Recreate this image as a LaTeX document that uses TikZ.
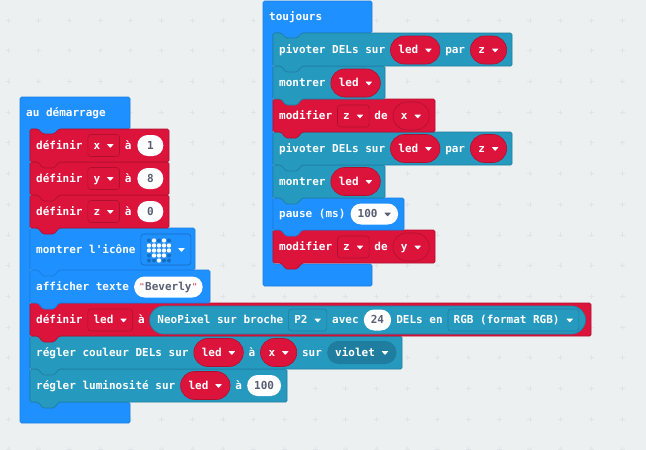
\documentclass[tikz,border=0pt]{standalone}
\usepackage{fontspec}
\setmonofont{DejaVu Sans Mono}
\usepackage{tikz}
\usetikzlibrary{positioning}

\definecolor{bgcol}{HTML}{ECF0F1}
\definecolor{gridcol}{HTML}{E0E4E6}
\definecolor{bluecol}{HTML}{1E90FF}
\definecolor{blueedge}{HTML}{1A7FE0}
\definecolor{redcol}{HTML}{DC143C}
\definecolor{rededge}{HTML}{B01030}
\definecolor{tealcol}{HTML}{2699BF}
\definecolor{tealedge}{HTML}{1F7EA0}
\definecolor{inkcol}{HTML}{575E75}
\definecolor{quotecol}{HTML}{C05060}

\newcommand{\ddown}[1][white]{\tikz[baseline=-0.5pt,x=1pt,y=1pt]\fill[#1,rounded corners=0.6pt] (0,4.5) -- (7,4.5) -- (3.5,0.5) -- cycle;}
\newcommand{\tick}{\makebox[6.6pt]{\textcolor{quotecol}{\fontsize{8}{8}\selectfont\raisebox{1pt}{"}}}}
% stacked block: style, x0, y0, x1, y1
\newcommand{\stackblock}[5]{\draw[#1,rounded corners=1.5pt,line width=0.7pt] (#2,#3) -- (#2+8,#3) -- (#2+13,#3+5) -- (#2+24,#3+5) -- (#2+29,#3) -- (#4,#3) -- (#4,#5) -- (#2+29,#5) -- (#2+24,#5+6) -- (#2+13,#5+6) -- (#2+8,#5) -- (#2,#5) -- cycle;}
% container: x0, y0, x1, y1 header bottom, y2 bar top, y3 bottom
\newcommand{\hatblock}[6]{\draw[hatb,rounded corners=1.5pt,line width=0.7pt] (#1,#2) -- (#3,#2) -- (#3,#4) -- (#1+39,#4) -- (#1+34,#4+6) -- (#1+23,#4+6) -- (#1+18,#4) -- (#1+10,#4) -- (#1+10,#5) -- (#3,#5) -- (#3,#6) -- (#1,#6) -- cycle;}

\tikzset{
  blueb/.style={fill=bluecol,draw=blueedge},
  redb/.style={fill=redcol,draw=rededge},
  tealb/.style={fill=tealcol,draw=tealedge},
  hatb/.style={fill=bluecol,draw=blueedge},
  lbl/.style={inner sep=0pt,text=white,font=\ttfamily\bfseries\fontsize{11}{13}\selectfont,text height=8.5pt,text depth=1.5pt},
  field/.style={lbl,inner xsep=5.7pt,minimum height=22pt,rounded corners=3pt,line width=0.6pt},
  redbox/.style={field,draw=rededge,fill=redcol},
  tealbox/.style={field,draw=tealedge,fill=tealcol},
  varpill/.style={lbl,inner xsep=8pt,minimum height=28pt,rounded corners=13.9pt,draw=rededge,fill=redcol,line width=0.6pt},
  numpill/.style={lbl,text=inkcol,inner xsep=7pt,minimum height=21pt,minimum width=26pt,rounded corners=10.4pt,fill=white},
  colpill/.style={lbl,inner xsep=8pt,minimum height=23pt,rounded corners=11.4pt,fill=tealedge},
  neopill/.style={lbl,minimum width=436pt,minimum height=28pt,rounded corners=13.9pt,draw=tealedge,fill=tealcol,line width=0.6pt},
  ledon/.style={fill=white},
  ledoff/.style={fill=blueedge!85!black}
}

\begin{document}
\begin{tikzpicture}[x=1pt,y=-1pt,node distance=4.8pt]
    \useasboundingbox (0,0) rectangle (646,450);
    \fill[bgcol] (0,0) rectangle (646,450);
    \foreach \i in {0,...,20} {
      \foreach \j in {0,...,14} {
        \draw[gridcol,line width=0.7pt] (8+\i*30.7-2.5,20+\j*30.7) -- +(5,0) (8+\i*30.7,20+\j*30.7-2.5) -- +(0,5);
      }
    }

    % au demarrage
    \hatblock{20}{97}{130}{129}{402}{423}
    \stackblock{tealb}{30}{369}{287}{402}
    \stackblock{tealb}{30}{336}{402}{369}
    \stackblock{redb}{30}{303}{591}{336}
    \stackblock{blueb}{30}{270}{210}{303}
    \stackblock{blueb}{30}{228}{195}{270}
    \stackblock{redb}{30}{195}{169}{228}
    \stackblock{redb}{30}{162}{169}{195}
    \stackblock{redb}{30}{129}{169}{162}

    \node(start) [lbl,anchor=west] at (26,112.5) {au démarrage};

    \node(setx) [lbl,anchor=west] at (36,145.5) {définir};
    \node(setxbox) [redbox,right=of setx] {x \ddown};
    \node(setxto) [lbl,right=of setxbox] {à};
    \node(setxval) [numpill,right=5.5pt of setxto] {1};

    \node(sety) [lbl,anchor=west] at (36,178.5) {définir};
    \node(setybox) [redbox,right=of sety] {y \ddown};
    \node(setyto) [lbl,right=of setybox] {à};
    \node(setyval) [numpill,right=5.5pt of setyto] {8};

    \node(setz) [lbl,anchor=west] at (36,211.5) {définir};
    \node(setzbox) [redbox,right=of setz] {z \ddown};
    \node(setzto) [lbl,right=of setzbox] {à};
    \node(setzval) [numpill,right=5.5pt of setzto] {0};

    \node(icon) [lbl,anchor=west] at (36,249.5) {montrer l'icône};
    \node(iconbox) [field,draw=blueedge!85!black,minimum width=50pt,minimum height=31pt,right=of icon] {};
    \foreach \c in {0,...,4} {
      \foreach \r in {0,...,4} {
        \fill[ledoff] (149+\c*5,240.5+\r*5) circle (2pt);
      }
    }
    \foreach \c/\r in {1/0,3/0,0/1,1/1,2/1,3/1,4/1,0/2,1/2,2/2,3/2,4/2,1/3,2/3,3/3,2/4} {
      \fill[ledon] (149+\c*5,240.5+\r*5) circle (2.2pt);
    }
    \node(iconarrow) [lbl,anchor=east] at ([xshift=-6pt]iconbox.east) {\ddown};

    \node(text) [lbl,anchor=west] at (36,287) {afficher texte};
    \node(textval) [numpill,inner xsep=4.5pt,right=of text] {\tick Beverly\tick};

    \node(setled) [lbl,anchor=west] at (36,320) {définir};
    \node(setledbox) [redbox,right=of setled] {led \ddown};
    \node(setledto) [lbl,right=of setledbox] {à};
    \node(neo) [neopill,right=4.4pt of setledto] {};
    \node(neotxt) [lbl,anchor=west] at ([xshift=8pt]neo.west) {NeoPixel sur broche};
    \node(pinbox) [tealbox,right=of neotxt] {P2 \ddown};
    \node(neoavec) [lbl,right=of pinbox] {avec};
    \node(neocount) [numpill,right=of neoavec] {24};
    \node(neodels) [lbl,right=of neocount] {DELs en};
    \node(rgbbox) [tealbox,right=of neodels] {RGB (format RGB) \ddown};

    \node(color) [lbl,anchor=west] at (36,352.5) {régler couleur DELs sur};
    \node(colorled) [varpill,right=of color] {led \ddown};
    \node(colorto) [lbl,right=of colorled] {à};
    \node(colorx) [varpill,right=of colorto] {x \ddown};
    \node(coloron) [lbl,right=of colorx] {sur};
    \node(colorval) [colpill,right=of coloron] {violet \ddown};

    \node(bright) [lbl,anchor=west] at (36,385.5) {régler luminosité sur};
    \node(brightled) [varpill,right=of bright] {led \ddown};
    \node(brightto) [lbl,right=of brightled] {à};
    \node(brightval) [numpill,right=of brightto] {100};

    % toujours
    \hatblock{263}{1}{372}{33}{264}{286}
    \stackblock{redb}{273}{230}{435}{263}
    \stackblock{blueb}{273}{198}{404}{230}
    \stackblock{tealb}{273}{165}{385}{198}
    \stackblock{tealb}{273}{132}{512}{165}
    \stackblock{redb}{273}{99}{435}{132}
    \stackblock{tealb}{273}{66}{385}{99}
    \stackblock{tealb}{273}{33}{512}{66}

    \node(forever) [lbl,anchor=west] at (269,16.5) {toujours};

    \node(rota) [lbl,anchor=west] at (279,50) {pivoter DELs sur};
    \node(rotaled) [varpill,right=of rota] {led \ddown};
    \node(rotaby) [lbl,right=of rotaled] {par};
    \node(rotaz) [varpill,right=of rotaby] {z \ddown};

    \node(showa) [lbl,anchor=west] at (279,83) {montrer};
    \node(showaled) [varpill,right=of showa] {led \ddown};

    \node(chga) [lbl,anchor=west] at (279,116) {modifier};
    \node(chgabox) [redbox,right=of chga] {z \ddown};
    \node(chgaby) [lbl,right=of chgabox] {de};
    \node(chgaval) [varpill,right=of chgaby] {x \ddown};

    \node(rotb) [lbl,anchor=west] at (279,148.5) {pivoter DELs sur};
    \node(rotbled) [varpill,right=of rotb] {led \ddown};
    \node(rotbby) [lbl,right=of rotbled] {par};
    \node(rotbz) [varpill,right=of rotbby] {z \ddown};

    \node(showb) [lbl,anchor=west] at (279,181.5) {montrer};
    \node(showbled) [varpill,right=of showb] {led \ddown};

    \node(pause) [lbl,anchor=west] at (279,214) {pause (ms)};
    \node(pauseval) [numpill,right=of pause] {100 \ddown[inkcol]};

    \node(chgb) [lbl,anchor=west] at (279,247) {modifier};
    \node(chgbbox) [redbox,right=of chgb] {z \ddown};
    \node(chgbby) [lbl,right=of chgbbox] {de};
    \node(chgbval) [varpill,right=of chgbby] {y \ddown};
\end{tikzpicture}
\end{document}
